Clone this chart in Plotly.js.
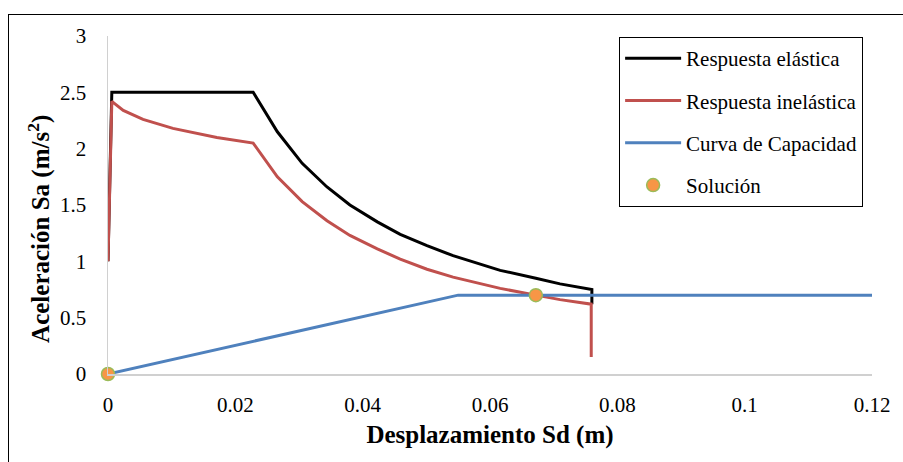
<!DOCTYPE html>
<html>
<head>
<meta charset="utf-8">
<script src="https://cdn.plot.ly/plotly-3.0.1.min.js"></script>
<style>
  html, body { margin: 0; padding: 0; background: #fff; }
  #wrap { position: relative; width: 903px; height: 462px; overflow: hidden; }
  #chart { width: 903px; height: 462px; }
  #frame { position: absolute; left: 8px; top: 14px; width: 1200px; height: 1200px;
           border: 1px solid #000; pointer-events: none; box-sizing: border-box; }
</style>
</head>
<body>
<div id="wrap">
  <div id="chart"></div>
  <div id="frame"></div>
</div>
<script>
// Respuesta elástica
const elasticX = [0, 0.0006, 0.0228, 0.0266, 0.0305, 0.0344, 0.0380, 0.0423, 0.0459, 0.0501, 0.0542, 0.0584, 0.0616, 0.0672, 0.0710, 0.0760, 0.0760];
const elasticY = [1.0, 2.5, 2.5, 2.15, 1.87, 1.66, 1.50, 1.35, 1.24, 1.14, 1.05, 0.98, 0.92, 0.85, 0.80, 0.75, 0.62];
// Respuesta inelástica
const inelasticX = [0, 0.0006, 0.0024, 0.0055, 0.0102, 0.0171, 0.0228, 0.0266, 0.0305, 0.0344, 0.0380, 0.0423, 0.0459, 0.0501, 0.0542, 0.0584, 0.0616, 0.0672, 0.0710, 0.0759, 0.0759];
const inelasticY = [1.0, 2.42, 2.34, 2.26, 2.18, 2.10, 2.05, 1.75, 1.53, 1.36, 1.23, 1.11, 1.02, 0.93, 0.86, 0.80, 0.76, 0.70, 0.66, 0.62, 0.15];
// Curva de Capacidad
const capacityX = [0, 0.055, 0.12];
const capacityY = [0, 0.70, 0.70];
// Solución
const solutionX = [0, 0.0672];
const solutionY = [0, 0.70];

const seriesNames = ['Respuesta elástica', 'Respuesta inelástica', 'Curva de Capacidad', 'Solución'];
const xTickVals = [0, 0.02, 0.04, 0.06, 0.08, 0.1, 0.12];
const xTickText = ['0', '0.02', '0.04', '0.06', '0.08', '0.1', '0.12'];
const yTickVals = [0, 0.5, 1, 1.5, 2, 2.5, 3];
const yTickText = ['0', '0.5', '1', '1.5', '2', '2.5', '3'];

const FONT = 'Liberation Serif, Times New Roman, serif';

const traces = [
  { x: elasticX, y: elasticY, name: seriesNames[0], mode: 'lines', legendgroup: 'a',
    line: { color: '#000000', width: 3 } },
  { x: inelasticX, y: inelasticY, name: seriesNames[1], mode: 'lines', legendgroup: 'b',
    line: { color: '#C0504D', width: 3 } },
  { x: capacityX, y: capacityY, name: seriesNames[2], mode: 'lines', legendgroup: 'c',
    line: { color: '#4F81BD', width: 3 } },
  { x: solutionX, y: solutionY, name: seriesNames[3], mode: 'markers', legendgroup: 'd',
    cliponaxis: false,
    marker: { color: '#F79646', size: 13, line: { color: '#9BBB59', width: 1.5 } } }
];

const layout = {
  width: 903, height: 462,
  margin: { l: 108, r: 31, t: 36, b: 88 },
  paper_bgcolor: '#ffffff', plot_bgcolor: '#ffffff',
  font: { family: FONT, size: 21, color: '#000000' },
  showlegend: true,
  legend: {
    x: 0.669, y: 0.997, xanchor: 'left', yanchor: 'top',
    bordercolor: '#000000', borderwidth: 1, bgcolor: '#ffffff',
    font: { family: FONT, size: 21, color: '#000000' },
    tracegroupgap: 12, itemwidth: 56
  },
  xaxis: {
    range: [0, 0.12], tickvals: xTickVals, ticktext: xTickText,
    showgrid: false, zeroline: false, showline: true, linecolor: '#D0D0D0', linewidth: 1.5,
    ticks: '', ticklabelstandoff: 11,
    tickfont: { family: FONT, size: 21, color: '#000' },
    title: { text: '<b>Desplazamiento Sd (m)</b>', font: { family: FONT, size: 25, color: '#000' }, standoff: 10 }
  },
  yaxis: {
    range: [0, 3], tickvals: yTickVals, ticktext: yTickText,
    showgrid: false, zeroline: false, showline: true, linecolor: '#D0D0D0', linewidth: 1.5,
    ticks: '', ticklabelstandoff: 16,
    tickfont: { family: FONT, size: 21, color: '#000' }
  },
  annotations: [{
    text: '<b>Aceleración Sa (m/s<sup>2</sup>)</b>',
    xref: 'paper', yref: 'paper', x: -0.09, y: 0.43, xanchor: 'center', yanchor: 'middle',
    textangle: -90, showarrow: false,
    font: { family: FONT, size: 25, color: '#000' }
  }]
};

Plotly.newPlot('chart', traces, layout, { displayModeBar: false, staticPlot: true });
</script>
</body>
</html>
